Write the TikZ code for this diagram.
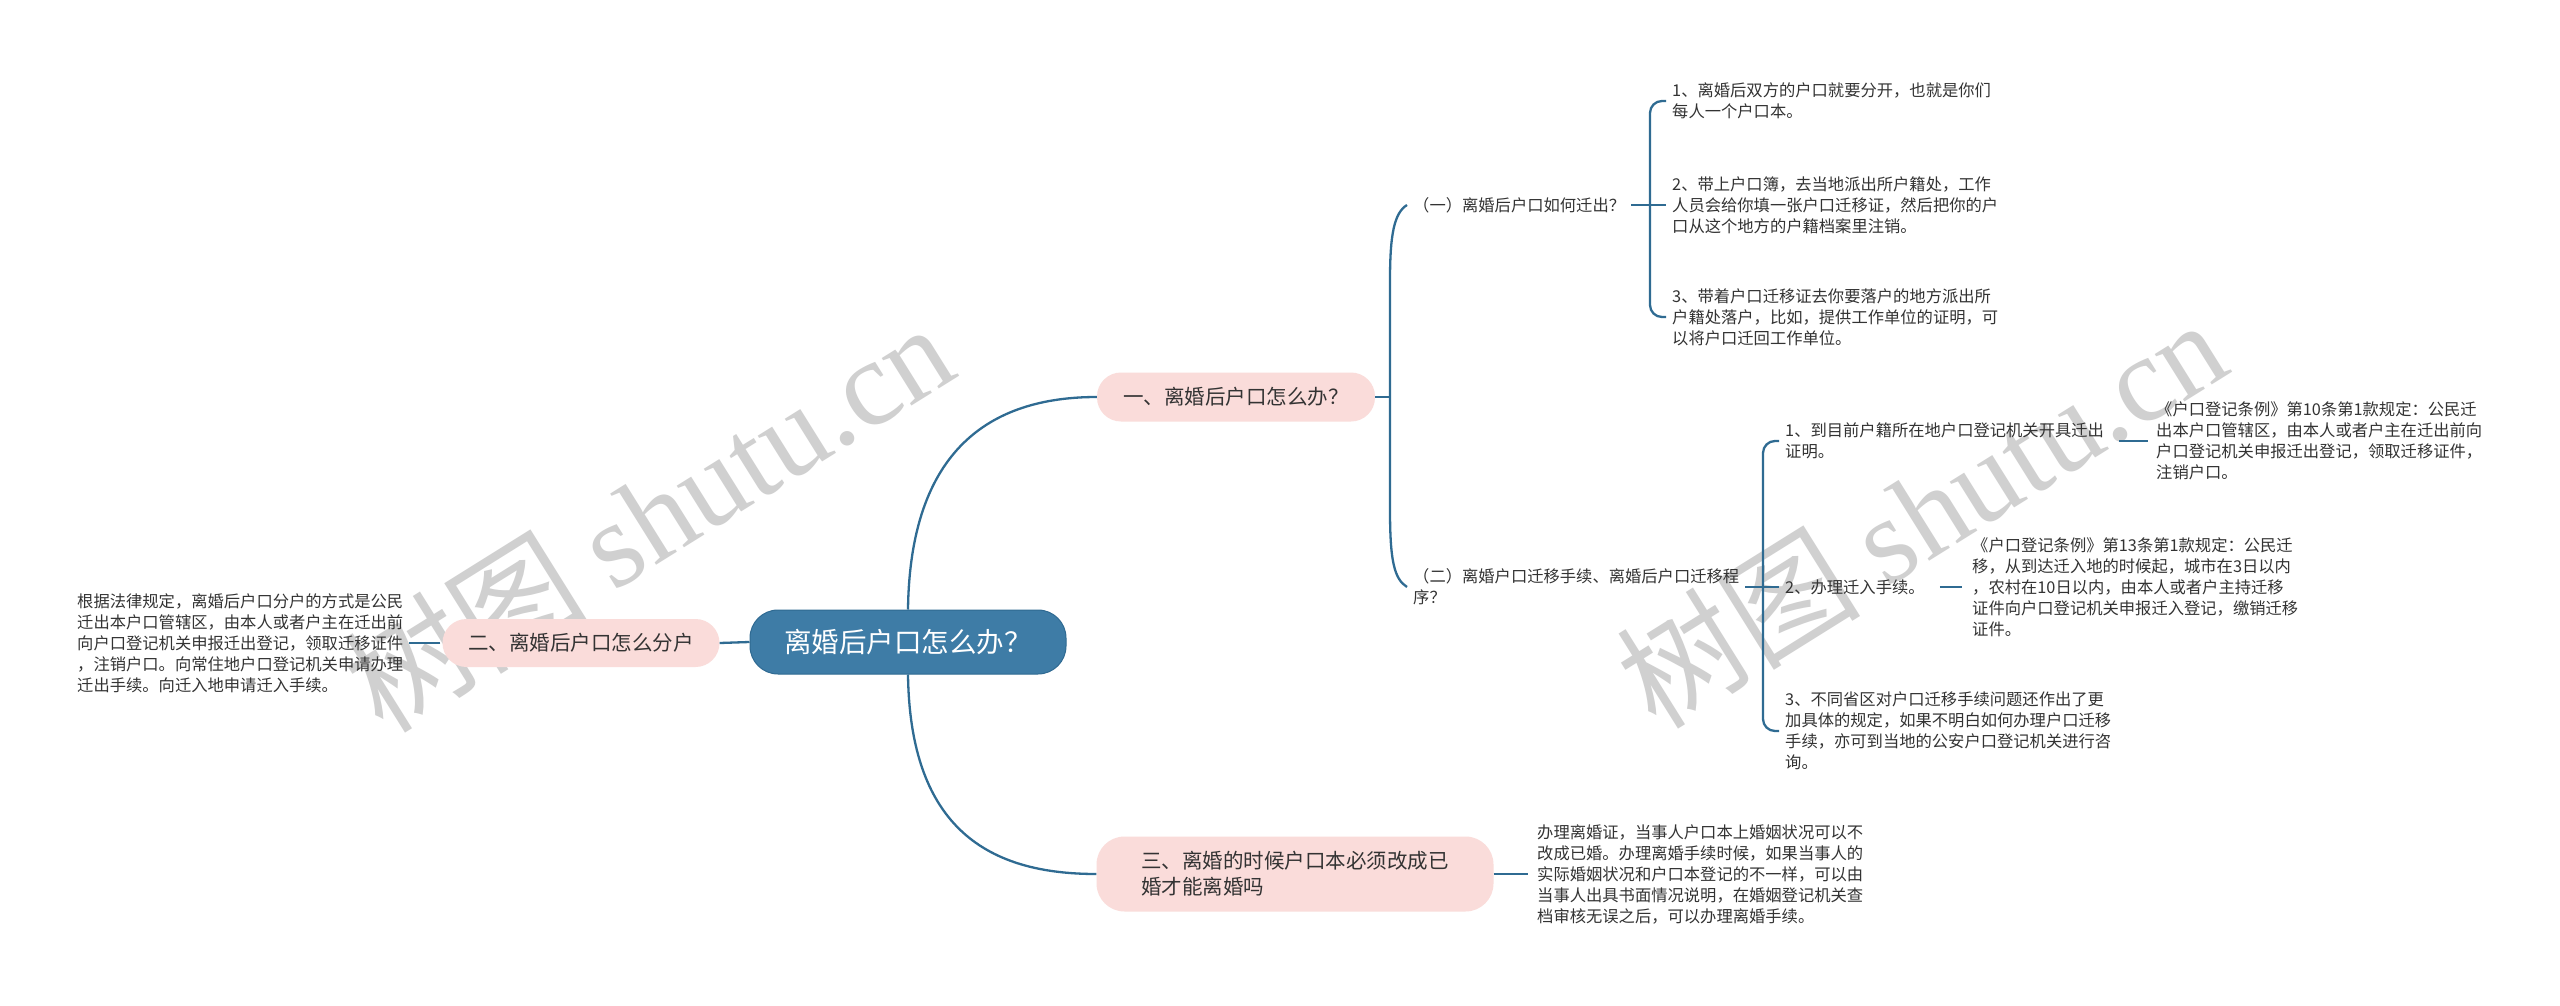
\documentclass[tikz,border=0pt]{standalone}
\usepackage{fontspec}
\setmainfont{Noto Sans CJK SC}
\newfontfamily\wmlatin{Liberation Serif}
\definecolor{rootfill}{HTML}{3E7CA6}
\definecolor{rootdraw}{HTML}{2F6A92}
\definecolor{pinkfill}{HTML}{FADCDA}
\definecolor{linec}{HTML}{2F6B92}
\definecolor{txtc}{HTML}{333333}
\definecolor{wmc}{HTML}{D0D0D0}
\begin{document}
\begin{tikzpicture}[x=1pt,y=-1pt,
  rootnode/.style={rectangle, rounded corners=28pt, fill=rootfill, draw=rootdraw, line width=1pt,
    minimum width=316pt, minimum height=64pt, text=white, font=\fontsize{27.5}{32}\selectfont, inner sep=0pt},
  branch/.style={rectangle, rounded corners=24pt, fill=pinkfill, minimum height=49pt, text=txtc,
    font=\fontsize{20.5}{26}\selectfont, inner sep=0pt},
  txt/.style={text=txtc, font=\fontsize{16.3}{21}\selectfont, align=left, inner xsep=6pt, inner ysep=2pt, anchor=west},
  conn/.style={draw=linec, line width=2.3pt},
  wmark/.style={text=wmc, rotate=32, font=\fontsize{122}{122}\selectfont, inner sep=0pt}
]
\useasboundingbox (0,0) rectangle (2560,1006);
\fill[white] (0,0) rectangle (2560,1006);

% watermarks (behind)
\node[wmark] (wm1) at (648,516) {树图 {\wmlatin shutu.cn}};
\node[wmark] (wm2) at (1921,512) {树图 {\wmlatin shutu.cn}};

% nodes
\node[rootnode] (root) at (908,642) {离婚后户口怎么办？};
\node[branch, minimum width=278pt] (b1) at (1236,397) {一、离婚后户口怎么办？};
\node[branch, minimum width=277pt, minimum height=48pt] (b2) at (581,643) {二、离婚后户口怎么分户};
\node[branch, minimum width=397pt, minimum height=75pt, rounded corners=28pt, align=left] (b3) at (1295,874)
  {三、离婚的时候户口本必须改成已\\婚才能离婚吗};

\node[txt] (l2) at (71,643) {根据法律规定，离婚后户口分户的方式是公民\\迁出本户口管辖区，由本人或者户主在迁出前\\向户口登记机关申报迁出登记，领取迁移证件\\，注销户口。向常住地户口登记机关申请办理\\迁出手续。向迁入地申请迁入手续。};

\node[txt] (s1) at (1407,205) {（一）离婚后户口如何迁出？};
\node[txt] (s2) at (1407,587) {（二）离婚户口迁移手续、离婚后户口迁移程\\序？};

\node[txt] (a1) at (1666,101) {1、离婚后双方的户口就要分开，也就是你们\\每人一个户口本。};
\node[txt] (a2) at (1666,205) {2、带上户口簿，去当地派出所户籍处，工作\\人员会给你填一张户口迁移证，然后把你的户\\口从这个地方的户籍档案里注销。};
\node[txt] (a3) at (1666,317) {3、带着户口迁移证去你要落户的地方派出所\\户籍处落户，比如，提供工作单位的证明，可\\以将户口迁回工作单位。};

\node[txt] (c1) at (1779,441) {1、到目前户籍所在地户口登记机关开具迁出\\证明。};
\node[txt] (c2) at (1779,587) {2、办理迁入手续。};
\node[txt] (c3) at (1779,731) {3、不同省区对户口迁移手续问题还作出了更\\加具体的规定，如果不明白如何办理户口迁移\\手续，亦可到当地的公安户口登记机关进行咨\\询。};

\node[txt] (d1) at (2150,441) {《户口登记条例》第10条第1款规定：公民迁\\出本户口管辖区，由本人或者户主在迁出前向\\户口登记机关申报迁出登记，领取迁移证件，\\注销户口。};
\node[txt] (d2) at (1966,587) {《户口登记条例》第13条第1款规定：公民迁\\移，从到达迁入地的时候起，城市在3日以内\\，农村在10日以内，由本人或者户主持迁移\\证件向户口登记机关申报迁入登记，缴销迁移\\证件。};

\node[txt] (e1) at (1531,874) {办理离婚证，当事人户口本上婚姻状况可以不\\改成已婚。办理离婚手续时候，如果当事人的\\实际婚姻状况和户口本登记的不一样，可以由\\当事人出具书面情况说明，在婚姻登记机关查\\档审核无误之后，可以办理离婚手续。};

% coordinates
\coordinate (k1) at (1390,397);

% connectors
\draw[conn] (root.north) .. controls (910,450) and (990,397) .. (b1.west);
\draw[conn] (root.south) .. controls (910,830) and (990,874) .. (b3.west);
\draw[conn] (root.west) -- (b2.east);
\draw[conn, shorten <=2pt] (b2.west) -- (l2.east);

\draw[conn] (b1.east) -- (k1);
\draw[conn] (s1.west) .. controls (1394,213) and (1390,235) .. (1390,280) -- (1390,510)
  .. controls (1390,560) and (1394,579) .. (s2.west);

\draw[conn] (s1.east) -- (a2.west);
\draw[conn, rounded corners=12pt] (a1.west) -- (1650,101) -- (1650,317) -- (a3.west);

\draw[conn] (s2.east) -- (c2.west);
\draw[conn, rounded corners=12pt] (c1.west) -- (1763,441) -- (1763,731) -- (c3.west);

\draw[conn, shorten <=9pt, shorten >=2pt] (c1.east) -- (d1.west);
\draw[conn, shorten <=9pt, shorten >=4pt] (c2.east) -- (d2.west);
\draw[conn, shorten >=3pt] (b3.east) -- (e1.west);
\end{tikzpicture}
\end{document}
